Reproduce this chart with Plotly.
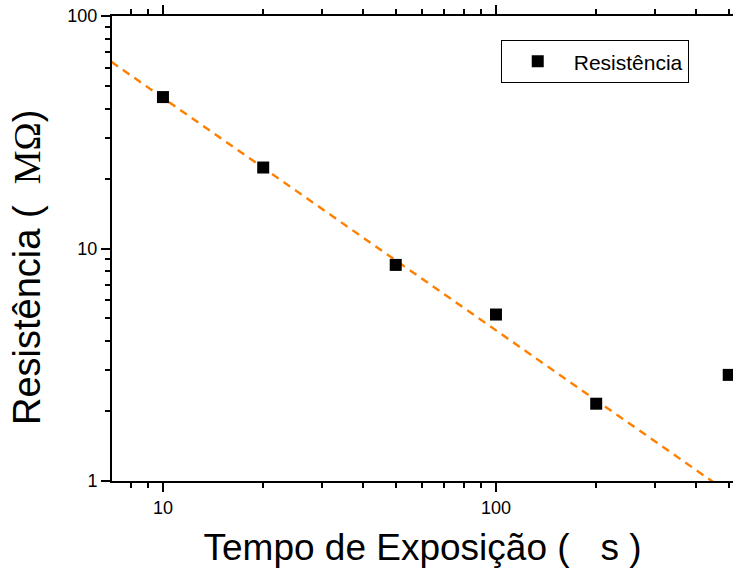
import numpy as np
import plotly.graph_objects as go

# Measured resistance vs exposure time
tempo = [10, 20, 50, 100, 200, 500]            # s
resistencia = [44.8, 22.3, 8.5, 5.2, 2.15, 2.86]  # MOhm

# Power-law fit  log10(R) = a + b*log10(t)
fit_a = 2.648
fit_b = -1.0
fit_t = [7.0, 520.0]

x_range = [np.log10(7.03), np.log10(515)]
y_range = [0, 2]

x_minor = [8, 9] + [20, 30, 40, 50, 60, 70, 80, 90] + [200, 300, 400, 500]
y_minor = [2, 3, 4, 5, 6, 7, 8, 9, 20, 30, 40, 50, 60, 70, 80, 90]

fit_r = [10 ** (fit_a + fit_b * np.log10(t)) for t in fit_t]

fig = go.Figure()
fig.add_trace(go.Scatter(
    x=fit_t, y=fit_r, mode="lines",
    line=dict(color="#FF7F00", width=2.4, dash="8px,6px"),
    showlegend=False, hoverinfo="skip",
))
fig.add_trace(go.Scatter(
    x=tempo, y=resistencia, mode="markers", name="Resistência",
    marker=dict(symbol="square", size=12, color="black"),
))

axis_font = dict(family="Liberation Sans, Arial, sans-serif", size=18, color="black")

fig.update_layout(
    width=733, height=576,
    margin=dict(l=112, r=0, t=16, b=95),
    paper_bgcolor="white", plot_bgcolor="white",
    font=dict(family="Liberation Sans, Arial, sans-serif", color="black"),
    legend=dict(
        x=0.626, y=0.948, xanchor="left", yanchor="top",
        bordercolor="black", borderwidth=1, bgcolor="white",
        font=dict(size=21, color="black"), itemwidth=62,
    ),
    xaxis=dict(
        type="log", range=x_range,
        tickvals=[10, 100], ticktext=["10", "100"],
        ticks="outside", ticklen=9, tickwidth=1.5, tickcolor="black",
        showline=True, linewidth=2, linecolor="black", mirror="ticks",
        showgrid=False, zeroline=False, tickfont=axis_font,
        minor=dict(tickvals=x_minor, ticks="outside", ticklen=5,
                   tickwidth=1.5, tickcolor="black", showgrid=False),
        title=dict(text="Tempo de Exposição (   s )",
                   font=dict(size=37, color="black"), standoff=18),
    ),
    yaxis=dict(
        type="log", range=y_range,
        tickvals=[1, 10, 100], ticktext=["1", "10", "100"],
        ticks="outside", ticklen=9, tickwidth=1.5, tickcolor="black",
        showline=True, linewidth=2, linecolor="black", mirror=False,
        showgrid=False, zeroline=False, tickfont=axis_font,
        minor=dict(tickvals=y_minor, ticks="outside", ticklen=5,
                   tickwidth=1.5, tickcolor="black", showgrid=False),
    ),
)

# Vertical axis title, with the unit set in a serif face
fig.add_annotation(
    text="Resistência (  <span style=\"font-family:'Liberation Serif', 'Times New Roman', serif\">MΩ</span>)",
    xref="paper", yref="paper", x=-0.137, y=0.46,
    xanchor="center", yanchor="middle", textangle=-90, showarrow=False,
    font=dict(size=38, color="black"),
)

fig.write_html("out.html")
